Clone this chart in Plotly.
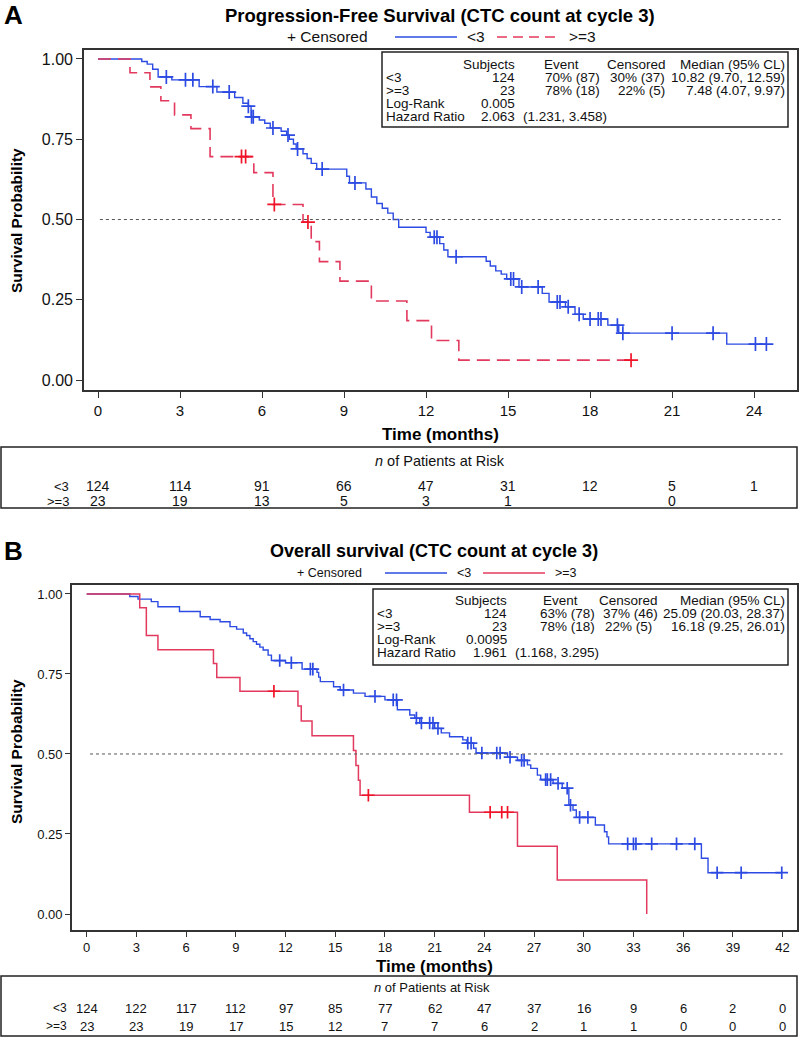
import plotly.graph_objects as go

# ---------------- DATA ----------------
# Panel A: Progression-free survival, CTC < 3
a_lo_t = [0, 1.6, 1.8, 2.0, 2.2, 2.7, 3.7, 4.35, 5.0, 5.3, 5.5, 5.6, 5.9, 6.1, 6.3, 6.7, 6.9, 7.0, 7.15, 7.25,
          7.5, 7.65, 7.8, 8.0, 9.1, 9.2, 9.8, 10.0, 10.2, 10.4, 10.6, 10.8, 11.0, 12.0, 12.15, 12.5, 12.65, 12.8,
          14.2, 14.35, 14.55, 14.75, 14.95, 15.4, 16.25, 16.5, 17.1, 17.45, 17.75, 18.65, 19.05, 23.0, 24.45]
a_lo_s = [1.0, 0.992, 0.984, 0.968, 0.944, 0.935, 0.914, 0.897, 0.880, 0.862, 0.853, 0.820, 0.810, 0.800, 0.785,
          0.775, 0.763, 0.750, 0.735, 0.720, 0.705, 0.690, 0.675, 0.657, 0.635, 0.614, 0.595, 0.570, 0.550, 0.535,
          0.520, 0.500, 0.476, 0.460, 0.445, 0.425, 0.405, 0.384, 0.370, 0.355, 0.340, 0.330, 0.315, 0.290, 0.270,
          0.243, 0.228, 0.205, 0.190, 0.171, 0.146, 0.112, 0.112]
a_lo_ct = [2.5, 3.2, 3.47, 4.2, 4.8, 5.5, 5.62, 5.68, 6.4, 6.95, 7.3, 8.2, 9.4, 12.3, 12.4, 13.1, 15.1, 15.2,
           15.5, 16.1, 16.8, 16.9, 17.2, 17.6, 18.0, 18.3, 18.4, 19.0, 19.2, 21.0, 22.5, 24.05, 24.45]
a_lo_cs = [0.944, 0.935, 0.935, 0.914, 0.897, 0.853, 0.820, 0.820, 0.785, 0.763, 0.720, 0.657, 0.614, 0.445,
           0.445, 0.384, 0.315, 0.315, 0.290, 0.290, 0.243, 0.243, 0.228, 0.205, 0.190, 0.190, 0.190, 0.171,
           0.146, 0.146, 0.146, 0.112, 0.112]
# Panel A: CTC >= 3
a_hi_t = [0, 1.17, 1.9, 2.3, 2.8, 3.4, 4.1, 5.7, 6.4, 7.5, 7.8, 8.1, 8.85, 10.0, 11.3, 12.2, 13.2, 19.5]
a_hi_s = [1.0, 0.957, 0.913, 0.870, 0.826, 0.783, 0.696, 0.646, 0.547, 0.492, 0.431, 0.369, 0.308, 0.246,
          0.185, 0.123, 0.062, 0.062]
a_hi_ct = [5.25, 5.4, 6.45, 7.68, 19.5]
a_hi_cs = [0.696, 0.696, 0.547, 0.492, 0.062]

# Panel B: Overall survival, CTC < 3
b_lo_t = [0, 2.6, 3.1, 3.9, 4.3, 5.6, 6.85, 7.45, 8.05, 8.65, 9.05, 9.45, 9.65, 9.85, 10.05, 10.25, 10.45,
          10.65, 10.95, 11.15, 12.0, 13.0, 13.9, 14.0, 14.1, 14.9, 15.3, 16.1, 16.8, 18.0, 18.75, 19.5, 19.8,
          20.1, 21.0, 21.4, 21.9, 22.7, 22.95, 23.35, 23.5, 25.4, 26.0, 26.6, 26.8, 27.2, 27.4, 28.15, 28.7,
          29.1, 29.35, 29.55, 30.7, 31.25, 31.4, 31.5, 37.1, 37.5, 41.95]
b_lo_s = [1.0, 0.992, 0.984, 0.976, 0.960, 0.945, 0.929, 0.920, 0.913, 0.898, 0.890, 0.878, 0.870, 0.860,
          0.851, 0.843, 0.834, 0.825, 0.809, 0.792, 0.785, 0.765, 0.755, 0.740, 0.726, 0.710, 0.700, 0.690,
          0.680, 0.669, 0.638, 0.622, 0.612, 0.597, 0.580, 0.566, 0.554, 0.544, 0.534, 0.518, 0.503, 0.490,
          0.480, 0.466, 0.455, 0.434, 0.420, 0.408, 0.393, 0.340, 0.325, 0.302, 0.278, 0.257, 0.241, 0.219,
          0.174, 0.129, 0.129]
b_lo_ct = [11.65, 12.35, 13.5, 13.65, 15.5, 17.4, 18.5, 18.7, 19.9, 20.2, 20.7, 20.9, 21.2, 23.0, 23.2, 23.85,
           24.75, 24.95, 25.55, 26.25, 26.4, 27.7, 27.8, 28.0, 28.45, 29.0, 29.2, 29.75, 30.25, 32.65, 33.0,
           33.15, 34.1, 35.6, 36.7, 38.05, 39.5, 41.95]
b_lo_cs = [0.792, 0.785, 0.765, 0.765, 0.700, 0.680, 0.669, 0.669, 0.612, 0.597, 0.597, 0.597, 0.580, 0.534,
           0.534, 0.503, 0.503, 0.503, 0.490, 0.480, 0.480, 0.420, 0.420, 0.420, 0.408, 0.393, 0.340, 0.302,
           0.302, 0.219, 0.219, 0.219, 0.219, 0.219, 0.219, 0.129, 0.129, 0.129]
# Panel B: CTC >= 3
b_hi_t = [0, 3.2, 3.6, 4.3, 7.65, 7.85, 9.25, 12.75, 12.95, 13.6, 16.1, 16.25, 16.4, 16.5, 23.1, 26.0, 28.4, 33.8]
b_hi_s = [1.0, 0.957, 0.870, 0.826, 0.783, 0.739, 0.696, 0.650, 0.603, 0.557, 0.511, 0.464, 0.418, 0.371,
          0.318, 0.212, 0.106, 0.0]
b_hi_ct = [11.3, 17.0, 24.35, 25.05, 25.4]
b_hi_cs = [0.696, 0.371, 0.318, 0.318, 0.318]

# Reference (median) line
median_level = 0.5
a_ref_x = [0.07, 25.0]
b_ref_x = [0.2, 42.0]

# Ticks
a_xticks = [0, 3, 6, 9, 12, 15, 18, 21, 24]
b_xticks = [0, 3, 6, 9, 12, 15, 18, 21, 24, 27, 30, 33, 36, 39, 42]
y_ticks = [0, 0.25, 0.5, 0.75, 1.0]

# Numbers at risk
a_risk_lo = ['124', '114', '91', '66', '47', '31', '12', '5', '1']
a_risk_hi = ['23', '19', '13', '5', '3', '1', '', '0', '']
b_risk_lo = ['124', '122', '117', '112', '97', '85', '77', '62', '47', '37', '16', '9', '6', '2', '0']
b_risk_hi = ['23', '23', '19', '17', '15', '12', '7', '7', '6', '2', '1', '1', '0', '0', '0']

group_labels = ['<3', '>=3']

# Statistics tables
stat_header = ['Subjects', 'Event', 'Censored', 'Median (95% CL)']
a_stats = [['<3', '124', '70% (87)', '30% (37)', '10.82 (9.70, 12.59)'],
           ['>=3', '23', '78% (18)', '22% (5)', '7.48 (4.07, 9.97)']]
a_logrank = '0.005'
a_hr, a_hr_ci = '2.063', '(1.231, 3.458)'
b_stats = [['<3', '124', '63% (78)', '37% (46)', '25.09 (20.03, 28.37)'],
           ['>=3', '23', '78% (18)', '22% (5)', '16.18 (9.25, 26.01)']]
b_logrank = '0.0095'
b_hr, b_hr_ci = '1.961', '(1.168, 3.295)'

title_a = 'Progression-Free Survival (CTC count at cycle 3)'
title_b = 'Overall survival (CTC count at cycle 3)'

# ---------------- STYLE / LAYOUT ----------------
W, H = 800, 1041
def px(x):
    return x / W
def py(y):
    return 1 - y / H

BLUE = '#2D4BE2'
RED = '#E23A5E'
RED_M = '#F01428'
FRAME = '#333333'
FONT = 'Liberation Sans, Arial, sans-serif'
NARROW = 'Liberation Sans Narrow, Arial Narrow, Liberation Sans, Arial, sans-serif'
TXT = '#111111'

fig = go.Figure()

def add_curve(t, s, color, dash, xa, ya, width=1.4):
    fig.add_trace(go.Scatter(x=t, y=s, mode='lines', xaxis=xa, yaxis=ya, showlegend=False, hoverinfo='skip',
                             line=dict(color=color, width=width, dash=dash, shape='hv')))

def add_cens(t, s, color, xa, ya, size):
    fig.add_trace(go.Scatter(x=t, y=s, mode='markers', xaxis=xa, yaxis=ya, showlegend=False, hoverinfo='skip',
                             marker=dict(symbol='cross-thin', size=size, color=color,
                                         line=dict(color=color, width=1.7))))

add_curve(a_lo_t, a_lo_s, BLUE, 'solid', 'x', 'y')
add_curve(a_hi_t, a_hi_s, RED, '13px,7px', 'x', 'y', 1.6)
add_cens(a_lo_ct, a_lo_cs, BLUE, 'x', 'y', 10)
add_cens(a_hi_ct, a_hi_cs, RED_M, 'x', 'y', 10)

add_curve(b_lo_t, b_lo_s, BLUE, 'solid', 'x2', 'y2')
add_curve(b_hi_t, b_hi_s, RED, 'solid', 'x2', 'y2', 1.5)
add_cens(b_lo_ct, b_lo_cs, BLUE, 'x2', 'y2', 9)
add_cens(b_hi_ct, b_hi_cs, RED_M, 'x2', 'y2', 9)

axis_common = dict(showline=True, linecolor=FRAME, linewidth=1.6, mirror=True, ticks='outside',
                   tickcolor=FRAME, tickwidth=1.3, showgrid=False, zeroline=False, fixedrange=True)

fig.update_layout(
    width=W, height=H, margin=dict(l=0, r=0, t=0, b=0),
    paper_bgcolor='white', plot_bgcolor='white', showlegend=False,
    xaxis=dict(domain=[px(84), px(797)], range=[-0.512, 25.57], tickvals=a_xticks, ticklen=6,
               tickfont=dict(family=NARROW, size=15, color=TXT), anchor='y', **axis_common),
    yaxis=dict(domain=[py(390), py(50)], range=[-0.031, 1.028], tickvals=y_ticks, tickformat='.2f', ticklen=6,
               tickfont=dict(family=FONT, size=16, color=TXT), anchor='x', **axis_common),
    xaxis2=dict(domain=[px(72), px(797)], range=[-0.887, 42.87], tickvals=b_xticks, ticklen=5,
                tickfont=dict(family=NARROW, size=13, color=TXT), anchor='y2', **axis_common),
    yaxis2=dict(domain=[py(930), py(585)], range=[-0.05, 1.028], tickvals=y_ticks, tickformat='.2f', ticklen=5,
                tickfont=dict(family=FONT, size=13, color=TXT), anchor='x2', **axis_common),
)

shapes = []
annotations = []

def text(x, y, s, size, anchor='center', bold=False, family=FONT, xref='paper', angle=0, color=TXT):
    annotations.append(dict(x=x, y=y, xref=xref, yref='paper', text=('<b>%s</b>' % s) if bold else s,
                            showarrow=False, xanchor=anchor, yanchor='middle', textangle=angle,
                            font=dict(family=family, size=size, color=color)))

def hline(x0, x1, y, color, dash='solid', width=1.6):
    shapes.append(dict(type='line', xref='paper', yref='paper', x0=px(x0), x1=px(x1), y0=py(y), y1=py(y),
                       line=dict(color=color, width=width, dash=dash)))

def box(x0, y0, x1, y1, width=1.5):
    shapes.append(dict(type='rect', xref='paper', yref='paper', x0=px(x0), x1=px(x1), y0=py(y1), y1=py(y0),
                       line=dict(color='#222222', width=width), fillcolor='rgba(0,0,0,0)'))

# Median reference lines (data coords)
shapes.append(dict(type='line', xref='x', yref='y', x0=a_ref_x[0], x1=a_ref_x[1], y0=median_level,
                   y1=median_level, line=dict(color='#555555', width=1, dash='dot')))
shapes.append(dict(type='line', xref='x2', yref='y2', x0=b_ref_x[0], x1=b_ref_x[1], y0=median_level,
                   y1=median_level, line=dict(color='#555555', width=1, dash='dot')))

# ---- Panel A decorations ----
text(px(2), py(15), 'A', 26, anchor='left', bold=True, color='black')
text(px(440), py(15), title_a, 18.5, bold=True, color='black')
text(px(285), py(37), '+ Censored', 15.5, anchor='left')
hline(395, 457, 37, BLUE, width=1.4)
text(px(465), py(37), group_labels[0], 15.5, anchor='left')
hline(497, 555, 37, RED, dash='10px,6px', width=1.6)
text(px(567), py(37), group_labels[1], 15.5, anchor='left')
text(px(16), py(221), 'Survival Probability', 15.5, bold=True, angle=-90, color='black')
text(px(440), py(434), 'Time (months)', 17, bold=True, color='black')

# Stats table A
box(382, 52, 788, 127)
sa_rows = [65, 77.5, 90.5, 103.5, 116.5]
sfs = 13.5
text(px(517), py(sa_rows[0]), stat_header[0], sfs, anchor='right')
text(px(581), py(sa_rows[0]), stat_header[1], sfs, anchor='right')
text(px(668), py(sa_rows[0]), stat_header[2], sfs, anchor='right')
text(px(787), py(sa_rows[0]), stat_header[3], sfs, anchor='right')
for i, row in enumerate(a_stats):
    yy = py(sa_rows[i + 1])
    text(px(384), yy, row[0], sfs, anchor='left')
    text(px(517), yy, row[1], sfs, anchor='right')
    text(px(602), yy, row[2], sfs, anchor='right')
    text(px(667), yy, row[3], sfs, anchor='right')
    text(px(787), yy, row[4], sfs, anchor='right')
text(px(384), py(sa_rows[3]), 'Log-Rank', sfs, anchor='left')
text(px(517), py(sa_rows[3]), a_logrank, sfs, anchor='right')
text(px(384), py(sa_rows[4]), 'Hazard Ratio', sfs, anchor='left')
text(px(517), py(sa_rows[4]), a_hr, sfs, anchor='right')
text(px(521), py(sa_rows[4]), a_hr_ci, sfs, anchor='left')

# Risk table A
box(1, 447, 797, 508)
text(px(440), py(461), '<i>n</i> of Patients at Risk', 14.5)
text(px(71), py(486), group_labels[0], 13, anchor='right', family=NARROW)
text(px(71), py(501), group_labels[1], 13, anchor='right', family=NARROW)
for t, v in zip(a_xticks, a_risk_lo):
    text(t, py(486), v, 14, family=NARROW, xref='x')
for t, v in zip(a_xticks, a_risk_hi):
    if v:
        text(t, py(501), v, 14, family=NARROW, xref='x')

# ---- Panel B decorations ----
text(px(2), py(551), 'B', 26, anchor='left', bold=True, color='black')
text(px(434), py(551), title_b, 18, bold=True, color='black')
text(px(295), py(573), '+ Censored', 12.5, anchor='left')
hline(385, 447, 573, BLUE, width=1.4)
text(px(455), py(573), group_labels[0], 12.5, anchor='left')
hline(483, 545, 573, RED, width=1.6)
text(px(553), py(573), group_labels[1], 12.5, anchor='left')
text(px(16), py(752), 'Survival Probability', 15.5, bold=True, angle=-90, color='black')
text(px(434), py(966), 'Time (months)', 17, bold=True, color='black')

# Stats table B
box(373, 589, 788, 665)
sb_rows = [600, 613, 626, 639, 652]
text(px(509), py(sb_rows[0]), stat_header[0], sfs, anchor='right')
text(px(580), py(sb_rows[0]), stat_header[1], sfs, anchor='right')
text(px(660), py(sb_rows[0]), stat_header[2], sfs, anchor='right')
text(px(787), py(sb_rows[0]), stat_header[3], sfs, anchor='right')
for i, row in enumerate(b_stats):
    yy = py(sb_rows[i + 1])
    text(px(375), yy, row[0], sfs, anchor='left')
    text(px(509), yy, row[1], sfs, anchor='right')
    text(px(597), yy, row[2], sfs, anchor='right')
    text(px(660 if i == 0 else 654), yy, row[3], sfs, anchor='right')
    text(px(787), yy, row[4], sfs, anchor='right')
text(px(375), py(sb_rows[3]), 'Log-Rank', sfs, anchor='left')
text(px(509), py(sb_rows[3]), b_logrank, sfs, anchor='right')
text(px(375), py(sb_rows[4]), 'Hazard Ratio', sfs, anchor='left')
text(px(509), py(sb_rows[4]), b_hr, sfs, anchor='right')
text(px(513), py(sb_rows[4]), b_hr_ci, sfs, anchor='left')

# Risk table B
box(1, 976, 797, 1036)
text(px(432), py(987), '<i>n</i> of Patients at Risk', 13)
text(px(69), py(1008), group_labels[0], 12, anchor='right', family=NARROW)
text(px(69), py(1026), group_labels[1], 12, anchor='right', family=NARROW)
for t, v in zip(b_xticks, b_risk_lo):
    text(t, py(1008), v, 13, family=NARROW, xref='x2')
for t, v in zip(b_xticks, b_risk_hi):
    text(t, py(1026), v, 13, family=NARROW, xref='x2')

fig.update_layout(shapes=shapes, annotations=annotations)
fig.write_html('out.html', config={'displayModeBar': False},
               post_script="document.body.style.margin='0';document.body.style.overflow='hidden';")
